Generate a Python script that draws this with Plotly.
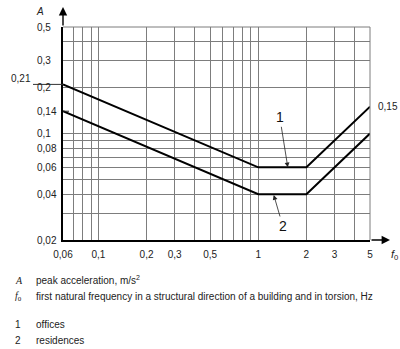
import numpy as np
import plotly.graph_objects as go

# Peak acceleration limits vs. first natural frequency
freq = [0.06, 1, 2, 5]
offices = [0.21, 0.06, 0.06, 0.15]
residences = [0.14, 0.04, 0.04, 0.10]

x_grid = [0.06, 0.07, 0.08, 0.09, 0.1, 0.2, 0.3, 0.4, 0.5, 0.6, 0.7, 0.8, 0.9,
          1, 2, 3, 4, 5]
x_labels = {0.06: "0,06", 0.1: "0,1", 0.2: "0,2", 0.3: "0,3", 0.5: "0,5",
            1: "1", 2: "2", 3: "3", 5: "5"}
y_grid = [0.02, 0.03, 0.04, 0.05, 0.06, 0.07, 0.08, 0.09, 0.1, 0.2, 0.3, 0.4, 0.5]
y_labels = {0.5: "0,5", 0.3: "0,3", 0.2: "0,2", 0.14: "0,14", 0.1: "0,1",
            0.08: "0,08", 0.06: "0,06", 0.04: "0,04", 0.02: "0,02"}

W, H = 400, 349
L, R, T, B = 63, 370, 27, 240
PW, PH = R - L, B - T


def px_x(p):
    return (p - L) / PW


def px_y(p):
    return (B - p) / PH


SANS = "Liberation Sans, Arial, sans-serif"
SERIF = "Liberation Serif, Times New Roman, serif"
GRID = "#7d7d7d"

fig = go.Figure()
for ys in (offices, residences):
    fig.add_trace(go.Scatter(x=freq, y=ys, mode="lines",
                             line=dict(color="black", width=2),
                             showlegend=False, hoverinfo="skip"))

ann = []
# y tick labels, left aligned
for v, t in y_labels.items():
    ann.append(dict(x=px_x(35), xref="paper", y=np.log10(v), yref="y",
                    text=t, showarrow=False, xanchor="left", yanchor="middle",
                    font=dict(family=SANS, size=10, color="#222")))
ann.append(dict(x=px_x(33), xref="paper", y=np.log10(0.21), yref="y",
                text="0,21", showarrow=False, xanchor="right", yanchor="bottom",
                yshift=-2, font=dict(family=SANS, size=10, color="#222")))
ann.append(dict(x=np.log10(5), xref="x", y=np.log10(0.15), yref="y",
                text="0,15", showarrow=False, xanchor="left", yanchor="middle",
                xshift=6, font=dict(family=SANS, size=10, color="#222")))

# curve markers
ann.append(dict(x=np.log10(1.53), y=np.log10(0.06), xref="x", yref="y",
                text="1", ax=-8, ay=-50, showarrow=True, arrowhead=2,
                arrowsize=1.2, arrowwidth=0.8, arrowcolor="#222",
                font=dict(family=SANS, size=14, color="#111")))
ann.append(dict(x=np.log10(1.25), y=np.log10(0.0395), xref="x", yref="y",
                text="2", ax=9, ay=31, showarrow=True, arrowhead=2,
                arrowsize=1.2, arrowwidth=0.8, arrowcolor="#222",
                font=dict(family=SANS, size=14, color="#111")))

# axis arrows
ann.append(dict(x=0, xref="paper", y=px_y(7), yref="paper", text="",
                ax=0, ay=20, showarrow=True, arrowhead=2, arrowsize=1.2,
                arrowwidth=1.4, arrowcolor="black"))
ann.append(dict(x=px_x(390), xref="paper", y=0, yref="paper", text="",
                ax=-20, ay=0, showarrow=True, arrowhead=2, arrowsize=1.2,
                arrowwidth=1.4, arrowcolor="black"))

# axis titles
ann.append(dict(x=px_x(40), xref="paper", y=px_y(11), yref="paper",
                text="<i>A</i>", showarrow=False, xanchor="center",
                yanchor="middle",
                font=dict(family=SANS, size=10, color="#222")))
ann.append(dict(x=px_x(394), xref="paper", y=px_y(255), yref="paper",
                text="<i>f</i><sub>0</sub>", showarrow=False, xanchor="center",
                yanchor="middle",
                font=dict(family=SANS, size=11, color="#222")))

# key below the chart
key = [
    (280, "<i>A</i>", "peak acceleration, m/s<sup>2</sup>", SERIF),
    (296, "<i>f</i><sub>0</sub>", "first natural frequency in a structural direction of a building and in torsion, Hz", SERIF),
    (324, "1", "offices", SANS),
    (340, "2", "residences", SANS),
]
for py, sym, txt, fam in key:
    ann.append(dict(x=px_x(13), xref="paper", y=px_y(py), yref="paper",
                    text=sym, showarrow=False, xanchor="left", yanchor="middle",
                    font=dict(family=fam, size=10, color="#222")))
    ann.append(dict(x=px_x(34), xref="paper", y=px_y(py), yref="paper",
                    text=txt, showarrow=False, xanchor="left", yanchor="middle",
                    font=dict(family=SANS, size=10, color="#222")))

shapes = [
    # top and right frame edges drawn like grid lines
    dict(type="line", xref="paper", yref="paper", x0=0, x1=1, y0=1, y1=1,
         line=dict(color=GRID, width=1)),
    dict(type="line", xref="paper", yref="paper", x0=1, x1=1, y0=0, y1=1,
         line=dict(color=GRID, width=1)),
    dict(type="line", xref="paper", yref="y", x0=px_x(33), x1=0,
         y0=0.21, y1=0.21, line=dict(color="#333", width=1)),
    dict(type="line", xref="paper", yref="y", x0=0, x1=px_x(69),
         y0=0.14, y1=0.14, line=dict(color="#222", width=1)),
]

fig.update_layout(
    width=W, height=H,
    margin=dict(l=L, r=W - R, t=T, b=H - B),
    paper_bgcolor="white", plot_bgcolor="white",
    annotations=ann, shapes=shapes,
    xaxis=dict(type="log", range=[np.log10(0.06), np.log10(5)],
               tickmode="array", tickvals=x_grid,
               ticktext=[x_labels.get(v, "") for v in x_grid],
               showgrid=True, gridcolor=GRID, gridwidth=1,
               showline=True, linecolor="black", linewidth=1.5,
               ticks="", zeroline=False, ticklabelstandoff=4,
               tickfont=dict(family=SANS, size=10, color="#222")),
    yaxis=dict(type="log", range=[np.log10(0.02), np.log10(0.5)],
               tickmode="array", tickvals=y_grid, showticklabels=False,
               showgrid=True, gridcolor=GRID, gridwidth=1,
               showline=True, linecolor="black", linewidth=1.5,
               ticks="", zeroline=False),
)

fig.write_html("out.html")
